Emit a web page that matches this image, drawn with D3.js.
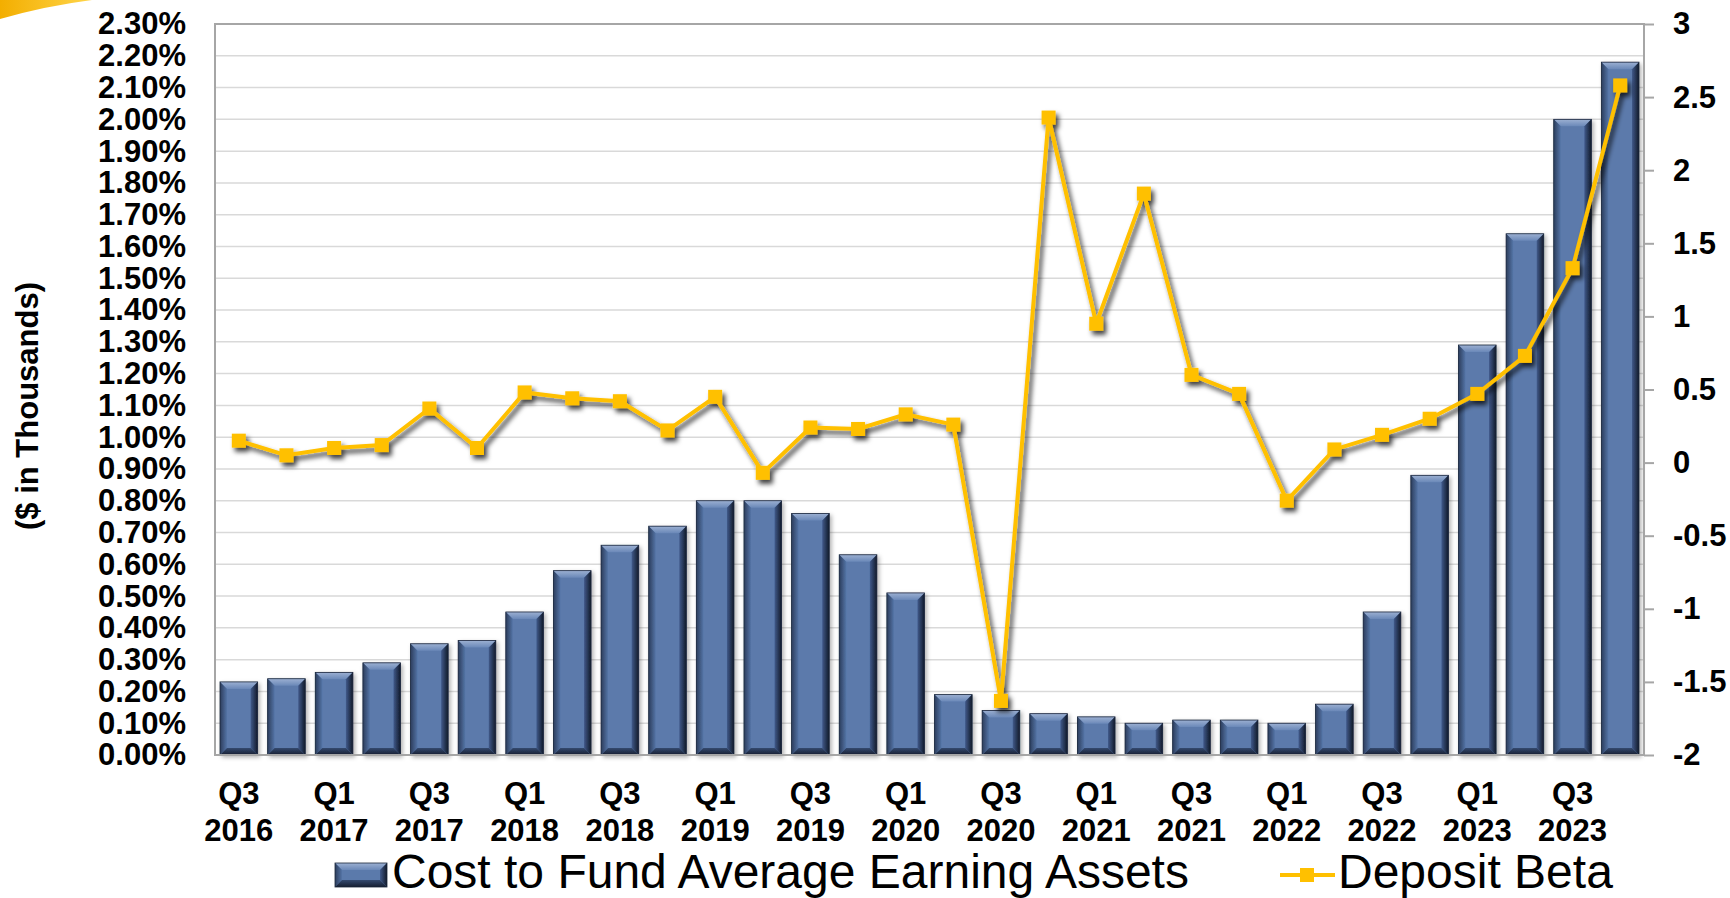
<!DOCTYPE html>
<html lang="en">
<head>
<meta charset="UTF-8">
<title>Cost to Fund vs Deposit Beta</title>
<script src="https://d3js.org/d3.v7.min.js"></script>
<style>
  body { margin: 0; background: #fff; }
  svg { display: block; font-family: "Liberation Sans", Arial, sans-serif; }
  .axis text, .xlabel { font-weight: bold; fill: #000; font-size: 31px; }
  .axis .domain { display: none; }
  .axis line { stroke: #a6a6a6; stroke-width: 2; }
</style>
</head>
<body>
<svg id="chart" width="1730" height="898"></svg>
<script>
// quarters on the x axis
const quarters = ["Q3 2016","Q4 2016","Q1 2017","Q2 2017","Q3 2017","Q4 2017",
  "Q1 2018","Q2 2018","Q3 2018","Q4 2018","Q1 2019","Q2 2019","Q3 2019","Q4 2019",
  "Q1 2020","Q2 2020","Q3 2020","Q4 2020","Q1 2021","Q2 2021","Q3 2021","Q4 2021",
  "Q1 2022","Q2 2022","Q3 2022","Q4 2022","Q1 2023","Q2 2023","Q3 2023","Q4 2023"];

// bars, left axis (%)
const costToFund = [0.23,0.24,0.26,0.29,0.35,0.36,0.45,0.58,0.66,0.72,0.80,0.80,0.76,0.63,
  0.51,0.19,0.14,0.13,0.12,0.10,0.11,0.11,0.10,0.16,0.45,0.88,1.29,1.64,2.00,2.18];

// line, right axis
const depositBeta = [0.15,0.05,0.10,0.12,0.37,0.10,0.48,0.44,0.42,0.22,0.45,-0.07,0.24,0.23,
  0.33,0.26,-1.63,2.36,0.95,1.84,0.60,0.47,-0.26,0.09,0.19,0.30,0.47,0.73,1.33,2.58];

// tick labels
const xTickLabels = ["Q3 2016","Q1 2017","Q3 2017","Q1 2018","Q3 2018","Q1 2019","Q3 2019",
  "Q1 2020","Q3 2020","Q1 2021","Q3 2021","Q1 2022","Q3 2022","Q1 2023","Q3 2023"];
const leftTicks = [0,0.1,0.2,0.3,0.4,0.5,0.6,0.7,0.8,0.9,1.0,1.1,1.2,1.3,1.4,1.5,1.6,1.7,1.8,1.9,2.0,2.1,2.2,2.3];
const rightTicks = [-2,-1.5,-1,-0.5,0,0.5,1,1.5,2,2.5,3];

const svg = d3.select("#chart");
const plot = { left: 215, right: 1644, top: 24, bottom: 755 };

const x = d3.scaleBand().domain(quarters).range([plot.left, plot.right])
  .paddingInner(0.21).paddingOuter(0.105);
const yL = d3.scaleLinear().domain([0, 2.3]).range([plot.bottom, plot.top]);
const yR = d3.scaleLinear().domain([-2, 3]).range([plot.bottom, plot.top]);

// defs: gradients and shadows
const defs = svg.append("defs");
function grad(id, x2, y2, stops) {
  const g = defs.append("linearGradient").attr("id", id)
    .attr("x1", 0).attr("y1", 0).attr("x2", x2).attr("y2", y2);
  stops.forEach(s => g.append("stop").attr("offset", s[0]).attr("stop-color", s[1]));
}
grad("bevTop", 0, 1, [[0, "#9cb0d2"], [1, "#6a88b8"]]);
grad("bevRight", 1, 0, [[0, "#40598a"], [1, "#121a2a"]]);
grad("bevLeft", 1, 0, [[0, "#2c3d5c"], [1, "#5474a6"]]);
grad("bevBottom", 0, 1, [[0, "#34496f"], [1, "#151e30"]]);
grad("swoosh", 1, 0, [[0, "#f3ae00"], [1, "#ffd54a"]]);

defs.append("filter").attr("id", "lineShadow")
  .attr("filterUnits", "userSpaceOnUse").attr("x", 0).attr("y", 0).attr("width", 1730).attr("height", 898)
  .append("feDropShadow").attr("dx", 3).attr("dy", 4).attr("stdDeviation", 2.5)
  .attr("flood-color", "#000").attr("flood-opacity", 0.75);
defs.append("filter").attr("id", "barShadow")
  .attr("filterUnits", "userSpaceOnUse").attr("x", 0).attr("y", 0).attr("width", 1730).attr("height", 898)
  .append("feDropShadow").attr("dx", 2).attr("dy", 2).attr("stdDeviation", 2)
  .attr("flood-color", "#000").attr("flood-opacity", 0.3);

// decorative corner swoosh
svg.append("path").attr("d", "M0,0 L92,0 Q45,6 0,19 Z").attr("fill", "url(#swoosh)");

// gridlines
svg.append("g").selectAll("line").data(leftTicks).join("line")
  .attr("x1", plot.left).attr("x2", plot.right)
  .attr("y1", d => yL(d)).attr("y2", d => yL(d))
  .attr("stroke", "#d9d9d9").attr("stroke-width", 1.5);

// beveled bar
function bevelBar(g, x0, y0, w, h) {
  const x1 = x0 + w, y1 = y0 + h;
  const b = Math.min(7, h / 2, w / 2);
  const pts = p => p.map(q => q.join(",")).join(" ");
  g.append("rect").attr("x", x0).attr("y", y0).attr("width", w).attr("height", h).attr("fill", "#5b7aab");
  g.append("polygon").attr("points", pts([[x0, y0], [x1, y0], [x1 - b, y0 + b], [x0 + b, y0 + b]])).attr("fill", "url(#bevTop)");
  g.append("polygon").attr("points", pts([[x0, y0], [x0 + b, y0 + b], [x0 + b, y1 - b], [x0, y1]])).attr("fill", "url(#bevLeft)");
  g.append("polygon").attr("points", pts([[x1, y0], [x1, y1], [x1 - b, y1 - b], [x1 - b, y0 + b]])).attr("fill", "url(#bevRight)");
  g.append("polygon").attr("points", pts([[x0, y1], [x1, y1], [x1 - b, y1 - b], [x0 + b, y1 - b]])).attr("fill", "url(#bevBottom)");
  g.append("rect").attr("x", x0).attr("y", y0).attr("width", w).attr("height", h)
    .attr("fill", "none").attr("stroke", "#1b263b").attr("stroke-width", 0.8);
}

const bars = svg.append("g").attr("filter", "url(#barShadow)");
quarters.forEach((q, i) => {
  const g = bars.append("g");
  bevelBar(g, x(q), yL(costToFund[i]), x.bandwidth(), yL(0) - yL(costToFund[i]));
});

// plot frame
svg.append("rect").attr("x", plot.left).attr("y", plot.top)
  .attr("width", plot.right - plot.left).attr("height", plot.bottom - plot.top)
  .attr("fill", "none").attr("stroke", "#a6a6a6").attr("stroke-width", 2);

// axes
svg.append("g").attr("class", "axis").attr("transform", `translate(${plot.left},0)`)
  .call(d3.axisLeft(yL).tickValues(leftTicks).tickSize(0).tickPadding(29)
    .tickFormat(d => d.toFixed(2) + "%"));

svg.append("g").attr("class", "axis").attr("transform", `translate(${plot.right},0)`)
  .call(d3.axisRight(yR).tickValues(rightTicks).tickSize(10).tickPadding(19)
    .tickFormat(d => String(d)));

// x labels: quarter on one line, year below, as separate texts
const xl = svg.append("g").selectAll("g").data(xTickLabels).join("g")
  .attr("transform", d => `translate(${x(d) + x.bandwidth() / 2},0)`);
xl.append("text").attr("class", "xlabel").attr("text-anchor", "middle")
  .attr("y", 804).text(d => d.split(" ")[0]);
xl.append("text").attr("class", "xlabel").attr("text-anchor", "middle")
  .attr("y", 841).text(d => d.split(" ")[1]);

// deposit beta line
const lineG = svg.append("g").attr("filter", "url(#lineShadow)");
const cx = i => x(quarters[i]) + x.bandwidth() / 2;
lineG.append("path").datum(depositBeta)
  .attr("d", d3.line().x((d, i) => cx(i)).y(d => yR(d)))
  .attr("fill", "none").attr("stroke", "#ffc000").attr("stroke-width", 4);
lineG.selectAll("rect").data(depositBeta).join("rect")
  .attr("x", (d, i) => cx(i) - 7).attr("y", d => yR(d) - 7)
  .attr("width", 14).attr("height", 14).attr("fill", "#ffc000");

// y axis title
svg.append("text").attr("transform", "translate(38,406) rotate(-90)")
  .attr("text-anchor", "middle").attr("font-weight", "bold").attr("font-size", 31)
  .text("($ in Thousands)");

// legend
const legend = svg.append("g");
bevelBar(legend, 335, 863, 52, 24);
legend.append("text").attr("x", 392).attr("y", 888).attr("font-size", 48).text("Cost to Fund Average Earning Assets");
legend.append("line").attr("x1", 1280).attr("x2", 1335).attr("y1", 875).attr("y2", 875)
  .attr("stroke", "#ffc000").attr("stroke-width", 4);
legend.append("rect").attr("x", 1300).attr("y", 868).attr("width", 14).attr("height", 14).attr("fill", "#ffc000");
legend.append("text").attr("x", 1338).attr("y", 888).attr("font-size", 48).text("Deposit Beta");
</script>
</body>
</html>
